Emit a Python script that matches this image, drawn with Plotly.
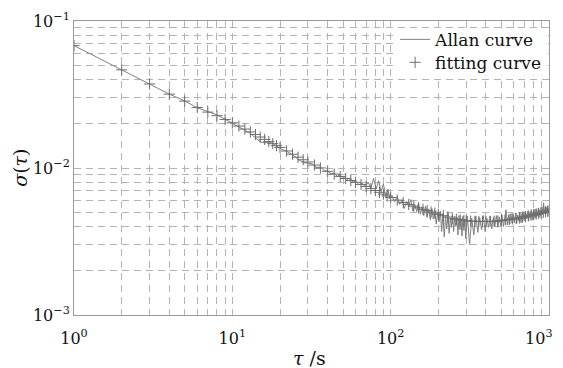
import plotly.graph_objects as go

# ---------------- data ----------------
allan_tau = [1, 2, 3, 4, 5, 6, 7, 8, 9, 10, 11, 12, 13, 14, 15, 16, 17, 18, 19, 20,
             22, 24, 26, 28, 30, 32, 34, 36, 38, 40, 42, 44, 46, 48, 50, 52, 54, 56, 58, 60,
             63, 66, 69, 72, 75, 78, 81, 84, 87, 90, 93, 96, 99,
             102, 106, 110, 114, 118, 122, 126, 130, 134, 138, 142, 146, 150, 154, 158, 162,
             166, 170, 174, 178, 182, 186, 190, 194, 198, 202, 206, 210, 214, 218, 222, 226,
             230, 234, 238, 242, 246, 250, 254, 258, 262, 266, 270, 274, 278, 282, 286, 290,
             294, 298,
             305, 315, 325, 335, 345, 355, 365, 375, 385, 395, 405, 415, 425, 435, 445, 455,
             465, 475, 485, 495, 505, 515, 525, 535, 545, 555, 565, 575, 585, 595, 605, 615,
             625, 635, 645, 655, 665, 675, 685, 695, 705, 715, 725, 735, 745, 755, 765, 775,
             785, 795, 805, 815, 825, 835, 845, 855, 865, 875, 885, 895, 905, 915, 925, 935,
             945, 955, 965, 975, 985, 995, 1000]
allan_sigma = [0.0680, 0.0463, 0.0372, 0.0318, 0.0286, 0.0257, 0.0242, 0.0230, 0.0215, 0.0202,
               0.0190, 0.0181, 0.0172, 0.0160, 0.0151, 0.0148, 0.0150, 0.0147, 0.0141, 0.0136,
               0.01300, 0.01230, 0.01150, 0.01085, 0.01080, 0.01065, 0.01010, 0.01015, 0.00960, 0.00955,
               0.00915, 0.00920, 0.00880, 0.00895, 0.00850, 0.00860, 0.00820, 0.00840, 0.00800, 0.00815,
               0.00770, 0.00790, 0.00745, 0.00800, 0.00730, 0.00850, 0.00720, 0.00820, 0.00690, 0.00780,
               0.00640, 0.00720, 0.00615,
               0.00645, 0.00590, 0.00640, 0.00565, 0.00605, 0.00530, 0.00595, 0.00545, 0.00610, 0.00510,
               0.00565, 0.00505, 0.00580, 0.00485, 0.00545, 0.00475, 0.00550, 0.00460, 0.00525, 0.00445,
               0.00530, 0.00450, 0.00515, 0.00415, 0.00500, 0.00430, 0.00510, 0.00370, 0.00490, 0.00340,
               0.00470, 0.00385, 0.00495, 0.00360, 0.00455, 0.00395, 0.00480, 0.00370, 0.00470, 0.00400,
               0.00460, 0.00350, 0.00475, 0.00380, 0.00455, 0.00345, 0.00470, 0.00375, 0.00450, 0.00330,
               0.00470, 0.00302, 0.00455, 0.00350, 0.00470, 0.00365, 0.00460, 0.00380, 0.00475, 0.00370,
               0.00455, 0.00395, 0.00470, 0.00385, 0.00460, 0.00400, 0.00475, 0.00395, 0.00465, 0.00405,
               0.00480, 0.00400, 0.00470, 0.00520, 0.00410, 0.00480, 0.00415, 0.00490, 0.00420, 0.00475,
               0.00425, 0.00495, 0.00420, 0.00480, 0.00435, 0.00500, 0.00425, 0.00490, 0.00440, 0.00505,
               0.00435, 0.00490, 0.00450, 0.00510, 0.00440, 0.00500, 0.00455, 0.00520, 0.00445, 0.00505,
               0.00460, 0.00525, 0.00455, 0.00515, 0.00470, 0.00530, 0.00465, 0.00520, 0.00475, 0.00540,
               0.00480, 0.00545, 0.00580, 0.00490, 0.00530, 0.00485, 0.00540, 0.00495, 0.00535, 0.00500,
               0.00512]

fit_tau = [1, 2, 3, 4, 5, 6, 7, 8, 9, 10, 11, 12, 13, 14, 15, 16, 17, 18, 19, 20,
           22, 24, 26, 28, 30, 33, 36, 40, 44, 48, 52, 56, 60, 65, 70, 75, 80, 85, 90, 95, 100,
           110, 120, 130, 140, 150, 160, 170, 180, 190, 200, 215, 230, 245, 260, 275, 290, 300,
           320, 340, 360, 380, 400, 425, 450, 475, 500, 530, 560, 590, 620, 650, 680, 710, 740,
           770, 800, 830, 860, 890, 920, 950, 980, 1000]
fit_sigma = [0.0680, 0.0465, 0.0373, 0.0318, 0.0285, 0.0258, 0.0240, 0.0227, 0.0214, 0.0203,
             0.01929, 0.01840, 0.01760, 0.01689, 0.01624, 0.01565, 0.01513, 0.01464, 0.01419, 0.01380,
             0.01305, 0.01241, 0.01185, 0.01138, 0.01099, 0.01047, 0.01001, 0.00949, 0.00909, 0.00876,
             0.00848, 0.00822, 0.00799, 0.00773, 0.00748, 0.00724, 0.00703, 0.00683, 0.00664, 0.00646,
             0.00630,
             0.00605, 0.00582, 0.00565, 0.00550, 0.00536, 0.00524, 0.00513, 0.00502, 0.00493, 0.00484,
             0.00474, 0.00464, 0.00455, 0.00447, 0.00443, 0.00440, 0.00438,
             0.00435, 0.00434, 0.00433, 0.00433, 0.00433, 0.00434, 0.00434, 0.00435, 0.00439, 0.00443,
             0.00446, 0.00450, 0.00453, 0.00457, 0.00462, 0.00467, 0.00472, 0.00477, 0.00482, 0.00486,
             0.00491, 0.00495, 0.00499, 0.00504, 0.00508, 0.00510]

x_ticks = [1, 10, 100, 1000]
x_tick_labels = ["10<sup>0</sup>", "10<sup>1</sup>", "10<sup>2</sup>",
                 "10<sup>3</sup>\u00a0\u00a0\u00a0\u00a0"]
y_ticks = [0.001, 0.01, 0.1]
y_tick_labels = ["10<sup>−3</sup>", "10<sup>−2</sup>", "10<sup>−1</sup>"]
x_title = "<i>τ</i> /s"
y_title = "<i>σ</i>(<i>τ</i>)"

SERIF = "DejaVu Serif"
GRID = "#b4b4b4"
AXIS = "#9a9a9a"
TXT = "#111"

fig = go.Figure()
fig.add_trace(go.Scatter(
    x=allan_tau, y=allan_sigma, mode="lines", name="Allan curve", legend="legend",
    line=dict(color="#808080", width=1)))
fig.add_trace(go.Scatter(
    x=fit_tau, y=fit_sigma, mode="markers", name="fitting curve", legend="legend2",
    marker=dict(symbol="cross-thin", size=8, line=dict(color="#6e6e6e", width=1), color="#6e6e6e")))

axis_common = dict(
    type="log", showline=True, mirror=True, linecolor=AXIS, linewidth=1,
    showgrid=True, gridcolor=GRID, gridwidth=1, griddash="7px,5px",
    ticks="", zeroline=False, automargin=False,
    tickfont=dict(family=SERIF, size=16, color=TXT),
    minor=dict(dtick="D1", showgrid=True, gridcolor=GRID, gridwidth=1, griddash="7px,5px", ticks=""),
)

fig.update_xaxes(range=[0, 3], tickvals=x_ticks, ticktext=x_tick_labels,
                 ticklabeloverflow="allow", ticklabelstandoff=9, **axis_common)
fig.update_yaxes(range=[-3, -1], tickvals=y_ticks, ticktext=y_tick_labels, **axis_common)

# axis titles
fig.add_annotation(text=x_title, xref="paper", yref="paper", x=0.495, y=-0.146,
                   xanchor="center", yanchor="middle", showarrow=False,
                   font=dict(family=SERIF, size=19, color=TXT))
fig.add_annotation(text=y_title, xref="paper", yref="paper", x=-0.114, y=0.5,
                   xanchor="center", yanchor="middle", showarrow=False, textangle=-90,
                   font=dict(family=SERIF, size=19, color=TXT))

# white patch behind the legend (hides the grid there, as in the reference)
fig.add_shape(type="rect", xref="paper", yref="paper",
              x0=0.682, x1=0.998, y0=0.815, y1=0.976,
              fillcolor="white", line=dict(width=0), layer="above")

legend_style = dict(xanchor="left", yanchor="middle", bgcolor="rgba(0,0,0,0)", borderwidth=0,
                    font=dict(family=SERIF, size=17, color=TXT), itemwidth=30)
fig.update_layout(
    width=563, height=368,
    margin=dict(l=74, r=14, t=21, b=53),
    paper_bgcolor="white", plot_bgcolor="white",
    showlegend=True,
    legend=dict(x=0.676, y=0.936, **legend_style),
    legend2=dict(x=0.676, y=0.858, **legend_style),
)

fig.write_html("out.html",
               config={"displayModeBar": False},
               post_script="document.body.style.margin='0px';document.body.style.overflow='hidden';")
